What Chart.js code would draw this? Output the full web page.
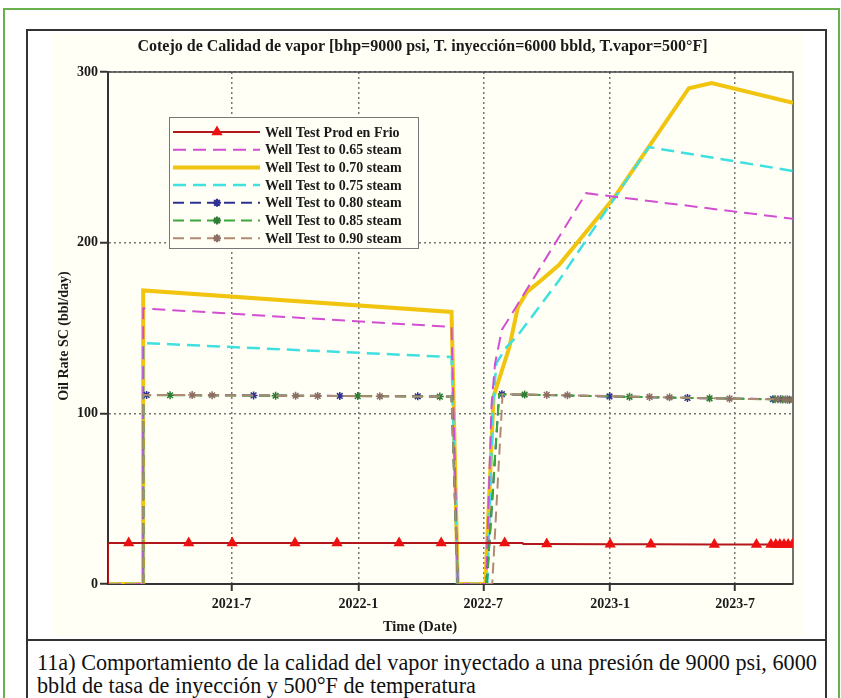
<!DOCTYPE html>
<html>
<head>
<meta charset="utf-8">
<script src="https://cdn.jsdelivr.net/npm/chart.js@4.4.0/dist/chart.umd.min.js"></script>
<style>
  body { margin: 0; width: 841px; height: 698px; overflow: hidden; position: relative; background: #fff; font-family: "Liberation Serif", "Times New Roman", serif; }
  #frame { position: absolute; left: 3px; top: 8px; width: 833px; height: 700px; border: 2px solid #6ab04c; border-bottom: none; }
  #box { position: absolute; left: 26px; top: 29px; width: 797px; height: 680px; border: 2px solid #333; border-bottom: none; }
  #sep { position: absolute; left: 27px; top: 639px; width: 798px; height: 2px; background: #333; }
  #wrap { position: absolute; left: 52px; top: 34px; width: 752px; height: 602px; background: #fffff6; }
  #caption { position: absolute; left: 37px; top: 651px; font-size: 22.2px; line-height: 23px; color: #111; white-space: nowrap; }
</style>
</head>
<body>
<div id="frame"></div>
<div id="box"></div>
<div id="sep"></div>
<div id="wrap"><canvas id="myChart" width="752" height="602"></canvas></div>
<div id="caption">11a) Comportamiento de la calidad del vapor inyectado a una presión de 9000 psi, 6000<br>bbld de tasa de inyección y 500°F de temperatura</div>
<script>
// axis range and date ticks
const xStart = '2021-01-03';
const xEnd = '2023-09-23';
const tickDates = ['2021-07-01', '2022-01-01', '2022-07-01', '2023-01-01', '2023-07-01'];
const tickLabels = ['2021-7', '2022-1', '2022-7', '2023-1', '2023-7'];

// Well Test Prod en Frio
const frioDates = ['2021-01-03', '2021-01-03', '2021-02-02', '2021-04-30', '2021-07-02', '2021-10-01', '2021-12-01', '2022-03-01', '2022-05-01', '2022-08-01', '2022-08-27', '2022-08-28', '2022-10-01', '2023-01-01', '2023-03-01', '2023-06-01', '2023-08-01', '2023-08-22', '2023-08-29', '2023-09-04', '2023-09-10', '2023-09-16', '2023-09-22'];
const frioRate = [0, 24, 24, 24, 24, 24, 24, 24, 24, 24, 24, 23.4, 23.4, 23.3, 23.3, 23.2, 23.2, 23.1, 23.1, 23.1, 23.1, 23.1, 23.1];
const frioMarks = ['2021-02-02', '2021-04-30', '2021-07-02', '2021-10-01', '2021-12-01', '2022-03-01', '2022-05-01', '2022-08-01', '2022-10-01', '2023-01-01', '2023-03-01', '2023-06-01', '2023-08-01', '2023-08-22', '2023-08-29', '2023-09-04', '2023-09-10', '2023-09-16', '2023-09-22'];

// 0.65 steam
const q65Dates = ['2021-01-03', '2021-02-23', '2021-02-23', '2022-05-16', '2022-05-25', '2022-07-05', '2022-07-13', '2022-07-18', '2022-07-28', '2022-08-08', '2022-08-23', '2022-11-27', '2023-09-23'];
const q65Rate = [0, 0, 161.5, 150.6, 0, 0, 105, 129, 149, 156, 166, 229, 214];

// 0.70 steam
const q70Dates = ['2021-01-03', '2021-02-23', '2021-02-23', '2022-05-16', '2022-05-25', '2022-07-04', '2022-07-16', '2022-08-08', '2022-08-20', '2022-09-02', '2022-09-23', '2022-10-19', '2023-01-06', '2023-04-25', '2023-05-28', '2023-09-23'];
const q70Rate = [0, 0, 172, 159.4, 0, 0, 110, 139, 162, 171, 178, 187, 226, 290.5, 293.5, 282];

// 0.75 steam
const q75Dates = ['2021-01-03', '2021-02-23', '2021-02-23', '2022-05-16', '2022-05-25', '2022-07-07', '2022-07-15', '2022-07-20', '2022-08-04', '2022-08-18', '2022-09-06', '2022-10-19', '2023-02-26', '2023-09-23'];
const q75Rate = [0, 0, 141.2, 133, 0, 0, 104, 129.5, 139, 144.7, 154.7, 178, 256, 242];

// 0.80 steam
const q80Dates = ['2021-01-03', '2021-02-23', '2021-02-23', '2021-02-28', '2021-08-02', '2021-12-05', '2022-03-28', '2022-05-16', '2022-05-25', '2022-07-06', '2022-07-24', '2022-07-28', '2022-12-31', '2023-04-23', '2023-08-25', '2023-09-05', '2023-09-15', '2023-09-23'];
const q80Rate = [0, 0, 110.8, 110.8, 110.5, 110.2, 110, 109.8, 0, 0, 111.2, 111.2, 109.9, 109, 108.3, 108.2, 108.1, 108];
const q80Marks = ['2021-02-28', '2021-08-02', '2021-12-05', '2022-03-28', '2022-07-28', '2022-12-31', '2023-04-23', '2023-08-25', '2023-09-05', '2023-09-15'];

// 0.85 steam
const q85Dates = ['2021-01-03', '2021-02-23', '2021-02-23', '2021-04-03', '2021-09-03', '2021-12-31', '2022-04-29', '2022-05-16', '2022-05-25', '2022-07-06', '2022-07-24', '2022-08-30', '2023-01-29', '2023-05-25', '2023-08-28', '2023-09-08', '2023-09-18', '2023-09-23'];
const q85Rate = [0, 0, 110.6, 110.6, 110.3, 110.1, 109.8, 109.7, 0, 0, 111, 111, 109.7, 108.8, 108.2, 108.1, 108, 108];
const q85Marks = ['2021-04-03', '2021-09-03', '2021-12-31', '2022-04-29', '2022-08-30', '2023-01-29', '2023-05-25', '2023-08-28', '2023-09-08', '2023-09-18'];

// 0.90 steam
const q90Dates = ['2021-01-03', '2021-02-23', '2021-02-23', '2021-05-05', '2021-06-03', '2021-10-02', '2021-11-03', '2022-02-01', '2022-05-16', '2022-05-25', '2022-07-14', '2022-07-29', '2022-10-01', '2022-10-31', '2023-02-27', '2023-03-28', '2023-06-23', '2023-09-01', '2023-09-12', '2023-09-23'];
const q90Rate = [0, 0, 110.7, 110.7, 110.6, 110.3, 110.2, 110, 109.8, 0, 0, 111.3, 110.8, 110.6, 109.6, 109.4, 108.6, 108.2, 108.1, 108];
const q90Marks = ['2021-05-05', '2021-06-03', '2021-10-02', '2021-11-03', '2022-02-01', '2022-10-01', '2022-10-31', '2023-02-27', '2023-03-28', '2023-06-23', '2023-09-01', '2023-09-12', '2023-09-23'];

// dates become day numbers on a linear axis (no date adapter available)
const epoch = Date.UTC(2021, 0, 1);
function toDay(s) {
    const p = s.split('-').map(Number);
    return (Date.UTC(p[0], p[1] - 1, p[2]) - epoch) / 86400000;
}
function points(dates, values) {
    return dates.map((d, i) => ({ x: toDay(d), y: values[i] }));
}
function markRadius(marks, r) {
    const set = new Set(marks.map(toDay));
    return c => (c.raw && set.has(c.raw.x) ? r : 0);
}

const serif = '"Liberation Serif", "Times New Roman", serif';

// plot frame on top and right side
const plotFrame = {
    id: 'plotFrame',
    beforeDatasetsDraw(chart) {
        const a = chart.chartArea, ctx = chart.ctx;
        ctx.save();
        ctx.strokeStyle = '#444';
        ctx.lineWidth = 1.5;
        ctx.beginPath();
        ctx.moveTo(a.left, a.top);
        ctx.lineTo(a.right, a.top);
        ctx.lineTo(a.right, a.bottom);
        ctx.stroke();
        ctx.restore();
    }
};

// axis titles, placed relative to the whole picture rather than the plot
const axisTitles = {
    id: 'axisTitles',
    afterDraw(chart) {
        const ctx = chart.ctx;
        ctx.save();
        ctx.fillStyle = '#1a1a1a';
        ctx.textAlign = 'center';
        ctx.textBaseline = 'middle';
        ctx.font = 'bold 14.5px ' + serif;
        ctx.fillText('Time (Date)', 368, 593);
        ctx.translate(12, 302);
        ctx.rotate(-Math.PI / 2);
        ctx.font = 'bold 14px ' + serif;
        ctx.fillText('Oil Rate SC (bbl/day)', 0, 0);
        ctx.restore();
    }
};

// boxed legend inside the plot
const boxLegend = {
    id: 'boxLegend',
    afterDatasetsDraw(chart) {
        const ctx = chart.ctx;
        const x0 = 117, y0 = 83, w = 249, h = 131;
        ctx.save();
        ctx.fillStyle = '#fffff6';
        ctx.fillRect(x0, y0, w, h);
        ctx.strokeStyle = '#777';
        ctx.lineWidth = 1;
        ctx.strokeRect(x0 + 0.5, y0 + 0.5, w, h);
        ctx.font = 'bold 14px ' + serif;
        ctx.textBaseline = 'middle';
        chart.data.datasets.forEach((ds, i) => {
            const y = y0 + 15 + i * 17.7;
            ctx.strokeStyle = ds.borderColor;
            ctx.lineWidth = ds.borderWidth;
            ctx.setLineDash(ds.borderDash || []);
            ctx.beginPath();
            ctx.moveTo(x0 + 4, y);
            ctx.lineTo(x0 + 91, y);
            ctx.stroke();
            ctx.setLineDash([]);
            if (ds.legendMark) {
                ctx.fillStyle = ds.pointBackgroundColor;
                ctx.strokeStyle = ds.pointBorderColor;
                Chart.helpers.drawPoint(ctx, { pointStyle: ds.pointStyle, radius: ds.legendMark, borderWidth: 1.5, rotation: 0 }, x0 + 48, y);
            }
            ctx.fillStyle = '#1a1a1a';
            ctx.fillText(ds.label, x0 + 96, y + 1);
        });
        ctx.restore();
    }
};

const ctx = document.getElementById('myChart').getContext('2d');

new Chart(ctx, {
    type: 'line',
    data: {
        datasets: [
            {
                label: 'Well Test Prod en Frio',
                data: points(frioDates, frioRate),
                borderColor: '#b3171c', borderWidth: 2,
                pointStyle: 'triangle', pointRadius: markRadius(frioMarks, 4.5),
                pointBackgroundColor: '#ee1111', pointBorderColor: '#ee1111',
                legendMark: 4.5, order: 0
            },
            {
                label: 'Well Test to 0.65 steam',
                data: points(q65Dates, q65Rate),
                borderColor: '#d24fd2', borderWidth: 2, borderDash: [13, 7],
                pointRadius: 0, order: 4
            },
            {
                label: 'Well Test to 0.70 steam',
                data: points(q70Dates, q70Rate),
                borderColor: '#f1c40f', borderWidth: 4,
                pointRadius: 0, order: 6
            },
            {
                label: 'Well Test to 0.75 steam',
                data: points(q75Dates, q75Rate),
                borderColor: '#3fe0e0', borderWidth: 2.5, borderDash: [13, 7],
                pointRadius: 0, order: 5
            },
            {
                label: 'Well Test to 0.80 steam',
                data: points(q80Dates, q80Rate),
                borderColor: '#2e3192', borderWidth: 2, borderDash: [11, 6],
                pointStyle: 'star', pointRadius: markRadius(q80Marks, 4), pointBorderWidth: 1.5,
                pointBackgroundColor: '#2e3192', pointBorderColor: '#2e3192',
                legendMark: 4, order: 3
            },
            {
                label: 'Well Test to 0.85 steam',
                data: points(q85Dates, q85Rate),
                borderColor: '#3aa83a', borderWidth: 2, borderDash: [11, 6],
                pointStyle: 'star', pointRadius: markRadius(q85Marks, 4), pointBorderWidth: 1.5,
                pointBackgroundColor: '#2e7d32', pointBorderColor: '#2e7d32',
                legendMark: 4, order: 2
            },
            {
                label: 'Well Test to 0.90 steam',
                data: points(q90Dates, q90Rate),
                borderColor: '#b08a72', borderWidth: 2, borderDash: [11, 6],
                pointStyle: 'star', pointRadius: markRadius(q90Marks, 4), pointBorderWidth: 1.5,
                pointBackgroundColor: '#8d6e63', pointBorderColor: '#8d6e63',
                legendMark: 4, order: 1
            }
        ]
    },
    options: {
        responsive: false,
        animation: false,
        events: [],
        layout: { padding: { left: 0, right: 11, top: 0, bottom: 0 } },
        elements: { line: { tension: 0 } },
        plugins: {
            legend: { display: false },
            tooltip: { enabled: false },
            title: {
                display: true,
                text: 'Cotejo de Calidad de vapor [bhp=9000 psi, T. inyección=6000 bbld, T.vapor=500°F]',
                color: '#1a1a1a',
                font: { family: serif, size: 16, weight: 'bold' },
                padding: { top: 3.5, bottom: 15.3 }
            }
        },
        scales: {
            x: {
                type: 'linear',
                min: toDay(xStart),
                max: toDay(xEnd),
                afterBuildTicks: s => { s.ticks = tickDates.map(d => ({ value: toDay(d) })); },
                afterFit: s => { s.height = 52; },
                ticks: {
                    autoSkip: false, maxRotation: 0, padding: 5, color: '#1a1a1a',
                    font: { family: serif, size: 14, weight: 'bold' },
                    callback: v => tickLabels[tickDates.map(toDay).indexOf(v)]
                },
                grid: { color: '#777', lineWidth: 1.5, tickLength: 7, tickColor: '#333', tickWidth: 2 },
                border: { color: '#333', width: 2, dash: [2, 3] }
            },
            y: {
                min: 0,
                max: 300,
                afterFit: s => { s.width = 56; },
                ticks: {
                    stepSize: 100, padding: 2, color: '#1a1a1a',
                    font: { family: serif, size: 14, weight: 'bold' }
                },
                grid: { color: '#777', lineWidth: 1.5, tickLength: 8, tickColor: '#333', tickWidth: 2 },
                border: { color: '#333', width: 2, dash: [2, 3] }
            }
        }
    },
    plugins: [plotFrame, boxLegend, axisTitles]
});
</script>
</body>
</html>
